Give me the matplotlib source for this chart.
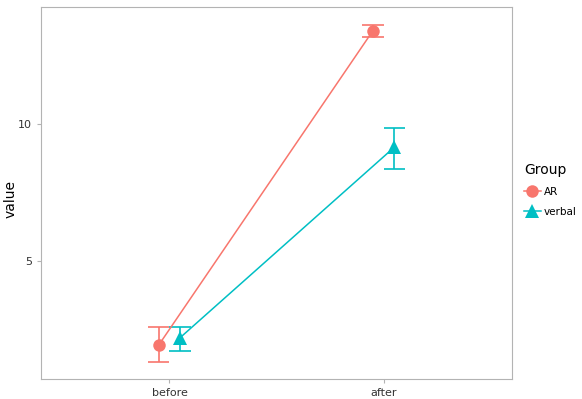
import numpy as np
import matplotlib
matplotlib.use("Agg")
import matplotlib.pyplot as plt
from matplotlib.lines import Line2D

categories = ["before", "after"]
groups = ["AR", "verbal"]
colors = ["#F8766D", "#00BFC4"]
markers = ["o", "^"]

ar_mean = [1.93, 13.4]
ar_low = [1.31, 13.18]
ar_high = [2.59, 13.63]

verbal_mean = [2.2, 9.15]
verbal_low = [1.72, 8.36]
verbal_high = [2.59, 9.86]

means = [ar_mean, verbal_mean]
lows = [ar_low, verbal_low]
highs = [ar_high, verbal_high]
dodge = [-0.05, 0.05]
msizes = [9, 10]

fig = plt.figure(figsize=(5.82, 3.99), dpi=100)
ax = fig.add_axes([41 / 582, 20 / 399, 471 / 582, 372 / 399])

xbase = np.arange(1, len(categories) + 1)
for i, g in enumerate(groups):
    x = xbase + dodge[i]
    ax.vlines(x, lows[i], highs[i], color=colors[i], lw=1.2, zorder=2)
    ax.hlines(lows[i], x - 0.05, x + 0.05, color=colors[i], lw=1.2, zorder=2)
    ax.hlines(highs[i], x - 0.05, x + 0.05, color=colors[i], lw=1.2, zorder=2)
    ax.plot(x, means[i], color=colors[i], lw=1.1, marker=markers[i],
            markersize=msizes[i], markeredgewidth=0, zorder=3)

ax.set_xlim(0.4, 2.6)
ax.set_ylim(0.69, 14.27)
ax.set_xticks(xbase)
ax.set_xticklabels(categories)
ax.set_yticks([5, 10])
fig.text(11 / 582, 0.5, "value", rotation=90, ha="center", va="center",
         fontsize=10)

for s in ax.spines.values():
    s.set_color("#b3b3b3")
    s.set_linewidth(0.8)
ax.tick_params(axis="both", colors="#b3b3b3", length=3, width=0.8,
               labelsize=8, labelcolor="#333333")

handles = [Line2D([0], [0], color=colors[i], lw=1.1, marker=markers[i],
                  markersize=msizes[i], markeredgewidth=0)
           for i in range(len(groups))]
leg = fig.legend(handles, groups, title="Group", loc="upper left",
                 bbox_to_anchor=(524 / 582, 1 - 163 / 399), frameon=False,
                 fontsize=7.5, title_fontsize=10, handlelength=1.6,
                 handletextpad=0.3, labelspacing=0.95, borderaxespad=0,
                 borderpad=0)
leg._legend_box.align = "left"

fig.savefig("out.png", dpi=100)
